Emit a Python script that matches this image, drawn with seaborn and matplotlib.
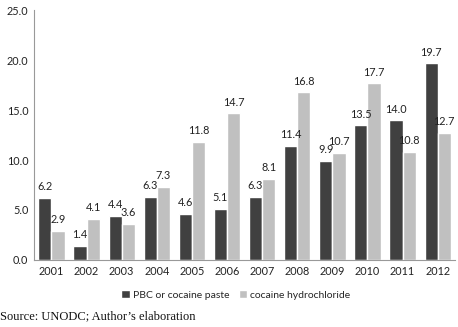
import pandas as pd
import matplotlib
matplotlib.use("Agg")
import matplotlib.pyplot as plt
import seaborn as sns

years = ["2001", "2002", "2003", "2004", "2005", "2006",
         "2007", "2008", "2009", "2010", "2011", "2012"]
pbc = [6.2, 1.4, 4.4, 6.3, 4.6, 5.1, 6.3, 11.4, 9.9, 13.5, 14.0, 19.7]
hcl = [2.9, 4.1, 3.6, 7.3, 11.8, 14.7, 8.1, 16.8, 10.7, 17.7, 10.8, 12.7]
series_names = ["PBC or cocaine paste", "cocaine hydrochloride"]
yticks = [0, 5, 10, 15, 20, 25]

df = pd.DataFrame({
    "year": years * 2,
    "value": pbc + hcl,
    "series": [series_names[0]] * len(years) + [series_names[1]] * len(years),
})

sns.set_style("white")
plt.rcParams["font.family"] = ["Lato", "DejaVu Sans"]

fig = plt.figure(figsize=(4.58, 3.27), dpi=100)
ax = fig.add_axes([0.074, 0.205, 0.92, 0.764])

sns.barplot(data=df, x="year", y="value", hue="series",
            palette=["#404040", "#c0c0c0"], width=0.75,
            saturation=1, ax=ax, legend=True)

# value labels above each bar
for cont in ax.containers:
    ax.bar_label(cont, fmt="%.1f", fontsize=7.8, padding=4, color="#222222")

ax.set_ylim(0, 25)
ax.set_yticks(yticks)
ax.set_yticklabels([f"{v:.1f}" for v in yticks])
ax.set_xlabel("")
ax.set_ylabel("")
ax.tick_params(axis="both", labelsize=7.8, colors="#222222", length=0, pad=4)
for side in ["top", "right"]:
    ax.spines[side].set_visible(False)
for side in ["left", "bottom"]:
    ax.spines[side].set_color("#999999")
    ax.spines[side].set_linewidth(0.8)
ax.set_xlim(-0.5, len(years) - 0.5)

handles, labels = ax.get_legend_handles_labels()
ax.legend_.remove()
fig.legend(handles, labels, loc="center", bbox_to_anchor=(0.515, 0.097),
           ncol=2, frameon=False, fontsize=7.5, handlelength=0.8,
           handleheight=0.8, handletextpad=0.3, columnspacing=0.9)

fig.text(0.0, 0.025, "Source: UNODC; Author\u2019s elaboration",
         family="Liberation Serif", fontsize=9, color="#111111")

fig.savefig("out.png", dpi=100)
